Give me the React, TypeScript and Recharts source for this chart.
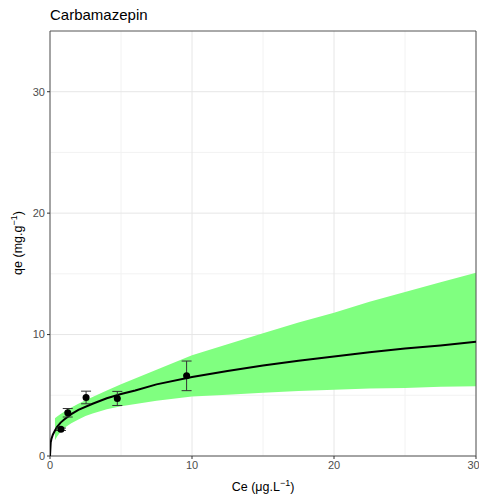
import {
  ComposedChart,
  Area,
  Line,
  Scatter,
  ErrorBar,
  XAxis,
  YAxis,
  CartesianGrid,
  ReferenceArea,
} from 'recharts';

// fitted curve (Ce, qe)
const curveCe = [0, 0.05, 0.1, 0.2, 0.35, 0.5, 0.75, 1, 1.5, 2, 3, 4, 5, 6, 7.5, 10, 12.5, 15, 17.5, 20, 22.5, 25, 27.5, 30];
const curveQe = [0, 1.1, 1.4, 1.75, 2.1, 2.4, 2.75, 3.0, 3.45, 3.8, 4.3, 4.75, 5.1, 5.4, 5.9, 6.5, 7.0, 7.45, 7.85, 8.2, 8.55, 8.85, 9.1, 9.4];

// confidence band
const bandCe = [0.35, 0.5, 0.75, 1, 1.5, 2, 2.5, 3, 4, 5, 7.5, 10, 12.5, 15, 17.5, 20, 22.5, 25, 27.5, 30];
const bandLow = [1.3, 1.6, 2.0, 2.3, 2.7, 3.0, 3.3, 3.5, 3.85, 4.1, 4.55, 4.9, 5.05, 5.2, 5.35, 5.45, 5.55, 5.6, 5.7, 5.75];
const bandHigh = [3.1, 3.25, 3.45, 3.65, 4.0, 4.3, 4.6, 4.85, 5.4, 5.9, 7.1, 8.3, 9.2, 10.1, 11.0, 11.8, 12.7, 13.5, 14.3, 15.1];

// measured points with error
const pointCe = [0.77, 1.25, 2.54, 4.74, 9.62];
const pointQe = [2.2, 3.56, 4.82, 4.74, 6.6];
const pointErr = [0.1, 0.35, 0.52, 0.58, 1.22];

const xTicks = [0, 10, 20, 30];
const yTicks = [0, 10, 20, 30];
const minorTicks = [5, 15, 25];

const curveData = curveCe.map((x, i) => ({ x, y: curveQe[i] }));
const bandData = bandCe.map((x, i) => ({ x, lo: bandLow[i], hi: bandHigh[i] }));
const pointData = pointCe.map((x, i) => ({ x, y: pointQe[i], err: pointErr[i] }));

const FONT = '"Liberation Sans", Arial, sans-serif';

export default function App() {
  return (
    <div
      style={{
        position: 'absolute',
        left: 0,
        top: 0,
        width: 479,
        height: 501,
        background: '#fff',
        fontFamily: FONT,
      }}
    >
      <div style={{ position: 'absolute', left: 50, top: 6, fontSize: 15, color: '#000' }}>
        Carbamazepin
      </div>
      <ComposedChart
        width={479}
        height={501}
        margin={{ top: 31, right: 3, bottom: 0, left: 0 }}
        style={{ fontFamily: FONT }}
      >
        <CartesianGrid
          stroke="#f2f2f2"
          horizontalValues={minorTicks}
          verticalValues={minorTicks}
        />
        <CartesianGrid
          stroke="#e6e6e6"
          horizontalValues={yTicks}
          verticalValues={xTicks}
        />
        <XAxis
          type="number"
          dataKey="x"
          domain={[0, 30]}
          ticks={xTicks}
          allowDataOverflow
          height={45}
          axisLine={false}
          tickLine={{ stroke: '#333' }}
          tickSize={3}
          tick={{ fill: '#4d4d4d', fontSize: 11 }}
        />
        <YAxis
          type="number"
          domain={[0, 35]}
          ticks={yTicks}
          allowDataOverflow
          width={50}
          axisLine={false}
          tickLine={{ stroke: '#333' }}
          tickSize={3}
          tick={{ fill: '#4d4d4d', fontSize: 11 }}
        />
        <Area
          data={bandData}
          dataKey={(d: any) => [d.lo, d.hi]}
          type="linear"
          fill="#80ff80"
          fillOpacity={1}
          stroke="none"
          isAnimationActive={false}
        />
        <Line
          data={curveData}
          dataKey="y"
          type="linear"
          stroke="#000"
          strokeWidth={2}
          dot={false}
          isAnimationActive={false}
        />
        <Scatter
          data={pointData}
          dataKey="y"
          fill="#000"
          isAnimationActive={false}
          shape={(p: any) => <circle cx={p.cx} cy={p.cy} r={3.5} fill="#000" />}
        >
          <ErrorBar dataKey="err" direction="y" width={5} stroke="#333" strokeWidth={1} />
        </Scatter>
        <ReferenceArea
          x1={0}
          x2={30}
          y1={0}
          y2={35}
          fill="none"
          stroke="#555"
          strokeWidth={1}
          ifOverflow="visible"
        />
      </ComposedChart>
      <div
        style={{
          position: 'absolute',
          left: 263,
          top: 486,
          transform: 'translate(-50%, -50%)',
          fontSize: 12.5,
          color: '#000',
          whiteSpace: 'nowrap',
        }}
      >
        Ce (μg.L<sup style={{ fontSize: 9 }}>−1</sup>)
      </div>
      <div
        style={{
          position: 'absolute',
          left: 17,
          top: 243,
          transform: 'translate(-50%, -50%) rotate(-90deg)',
          fontSize: 12.5,
          color: '#000',
          whiteSpace: 'nowrap',
        }}
      >
        qe (mg.g<sup style={{ fontSize: 9 }}>−1</sup>)
      </div>
    </div>
  );
}
